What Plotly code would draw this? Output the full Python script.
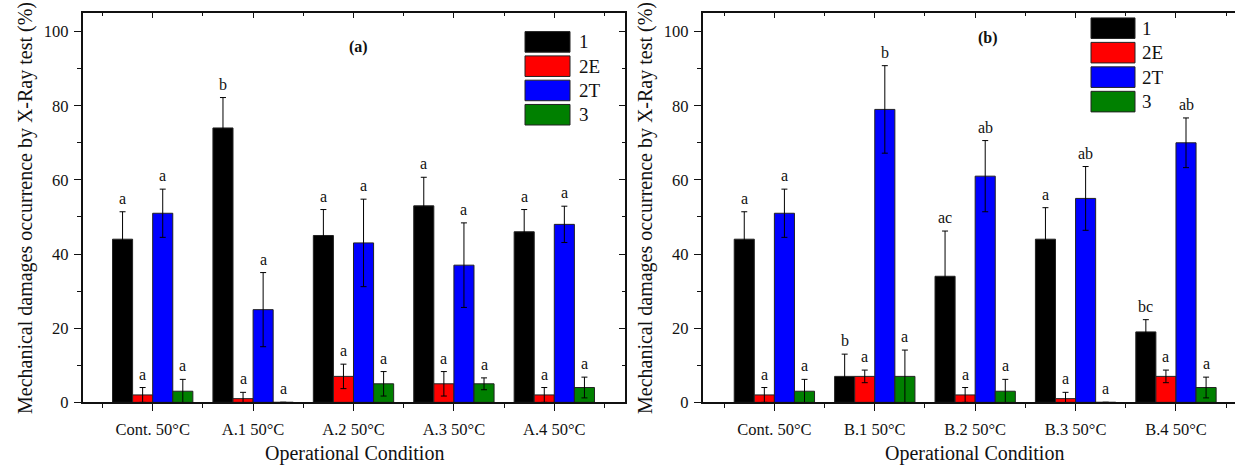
import plotly.graph_objects as go

# ---- data ---------------------------------------------------------------
series = ["1", "2E", "2T", "3"]
colors = ["#000000", "#ff0000", "#0000ff", "#008000"]

cats_a = ["Cont. 50°C", "A.1 50°C", "A.2 50°C", "A.3 50°C", "A.4 50°C"]
cats_b = ["Cont. 50°C", "B.1 50°C", "B.2 50°C", "B.3 50°C", "B.4 50°C"]

# panel (a): means, standard errors and significance letters per damage class
a_1 = [44, 74, 45, 53, 46]
a_2E = [2, 1, 7, 5, 2]
a_2T = [51, 25, 43, 37, 48]
a_3 = [3, 0, 5, 5, 4]
a_1_err = [7.4, 8.2, 7.0, 7.7, 6.0]
a_2E_err = [2.0, 1.7, 3.3, 3.3, 2.0]
a_2T_err = [6.5, 10.0, 11.8, 11.4, 4.9]
a_3_err = [3.2, 0.0, 3.3, 1.6, 2.8]
a_1_let = ["a", "b", "a", "a", "a"]
a_2E_let = ["a", "a", "a", "a", "a"]
a_2T_let = ["a", "a", "a", "a", "a"]
a_3_let = ["a", "a", "a", "a", "a"]

# panel (b)
b_1 = [44, 7, 34, 44, 19]
b_2E = [2, 7, 2, 1, 7]
b_2T = [51, 79, 61, 55, 70]
b_3 = [3, 7, 3, 0, 4]
b_1_err = [7.4, 6.0, 12.2, 8.5, 3.3]
b_2E_err = [2.0, 1.7, 2.0, 1.7, 1.7]
b_2T_err = [6.5, 11.8, 9.6, 8.6, 6.7]
b_3_err = [3.2, 7.1, 3.2, 0.0, 2.8]
b_1_let = ["a", "b", "ac", "a", "bc"]
b_2E_let = ["a", "a", "a", "a", "a"]
b_2T_let = ["a", "b", "ab", "ab", "ab"]
b_3_let = ["a", "a", "a", "a", "a"]

y_ticks = [0, 20, 40, 60, 80, 100]

# ---- layout helpers -----------------------------------------------------
W, H = 1235, 475
FONT = "Liberation Serif"


def px(x):
    return x / W


def py(y):
    return 1 - y / H


BARGAP = 0.2
n_series = len(series)
bar_w = (1 - BARGAP) / n_series
offsets = [-(1 - BARGAP) / 2 + bar_w * (i + 0.5) for i in range(n_series)]

fig = go.Figure()
annotations = []
shapes = []

panels = [
    ("x", "y", cats_a,
     [a_1, a_2E, a_2T, a_3], [a_1_err, a_2E_err, a_2T_err, a_3_err],
     [a_1_let, a_2E_let, a_2T_let, a_3_let]),
    ("x2", "y2", cats_b,
     [b_1, b_2E, b_2T, b_3], [b_1_err, b_2E_err, b_2T_err, b_3_err],
     [b_1_let, b_2E_let, b_2T_let, b_3_let]),
]

for xr, yr, cats, vals, errs, lets in panels:
    xs = list(range(len(cats)))
    for i, name in enumerate(series):
        fig.add_trace(go.Bar(
            x=xs, y=vals[i], name=name, xaxis=xr, yaxis=yr,
            marker=dict(color=colors[i], line=dict(color="#222222", width=1)),
            error_y=dict(type="data", array=errs[i], visible=True,
                         color="#000000", thickness=1, width=3),
            showlegend=False,
        ))
        for k, x in enumerate(xs):
            annotations.append(dict(
                x=x + offsets[i], y=vals[i][k] + errs[i][k],
                xref=xr, yref=yr, text=lets[i][k], showarrow=False,
                xanchor="center", yanchor="bottom", yshift=3,
                font=dict(family=FONT, size=16, color="#111111"),
            ))

# ---- axes ---------------------------------------------------------------
y_dom = [py(411), py(13.3)]
xa_dom = [px(82.7), px(625)]
xb_dom = [px(702.7), 1.0]
xa_rng = [-0.697, 4.704]
xb_rng = [-0.714, 4.588]
y_rng = [0, 105]
minor_x = [-0.5, 0.5, 1.5, 2.5, 3.5, 4.5]
minor_y = [10, 30, 50, 70, 90]

tickfont = dict(family=FONT, size=16.5, color="#111111")


def x_axis(dom, rng, cats, anchor):
    return dict(
        domain=dom, range=rng, anchor=anchor, fixedrange=True,
        tickmode="array", tickvals=list(range(len(cats))), ticktext=cats,
        ticks="outside", ticklen=7, tickwidth=1.3, tickcolor="#111111",
        minor=dict(tickmode="array", tickvals=minor_x, ticks="outside",
                   ticklen=3.5, tickwidth=1.3, tickcolor="#111111"),
        showline=True, linecolor="#111111", linewidth=1.8, mirror=True,
        showgrid=False, zeroline=False, tickfont=tickfont,
        ticklabelstandoff=4,
    )


def y_axis(anchor, mirror):
    return dict(
        domain=y_dom, range=y_rng, anchor=anchor, fixedrange=True,
        tickmode="array", tickvals=y_ticks, ticktext=[str(v) for v in y_ticks],
        ticks="outside", ticklen=7, tickwidth=1.3, tickcolor="#111111",
        minor=dict(tickmode="array", tickvals=minor_y, ticks="outside",
                   ticklen=3.5, tickwidth=1.3, tickcolor="#111111"),
        showline=True, linecolor="#111111", linewidth=1.8, mirror=mirror,
        showgrid=False, zeroline=False, tickfont=tickfont,
        ticklabelstandoff=2,
    )


def top_axis(over, dom, rng, n, anchor):
    return dict(
        overlaying=over, side="top", anchor=anchor, domain=dom, range=rng,
        fixedrange=True, tickmode="array", tickvals=list(range(n)),
        showticklabels=False, ticks="inside", ticklen=5, tickwidth=1.3,
        tickcolor="#111111",
        minor=dict(tickmode="array", tickvals=minor_x, ticks="inside",
                   ticklen=3, tickwidth=1.3, tickcolor="#111111"),
        showline=False, showgrid=False, zeroline=False,
    )


fig.update_layout(
    xaxis=x_axis(xa_dom, xa_rng, cats_a, "y"),
    yaxis=y_axis("x", True),
    xaxis2=x_axis(xb_dom, xb_rng, cats_b, "y2"),
    yaxis2=y_axis("x2", False),
    xaxis3=top_axis("x", xa_dom, xa_rng, len(cats_a), "y"),
    xaxis4=top_axis("x2", xb_dom, xb_rng, len(cats_b), "y2"),
    yaxis3=dict(
        overlaying="y", side="right", anchor="x", domain=y_dom, range=y_rng,
        fixedrange=True, tickmode="array", tickvals=y_ticks,
        showticklabels=False, ticks="inside", ticklen=6, tickwidth=1.3,
        tickcolor="#111111",
        minor=dict(tickmode="array", tickvals=minor_y, ticks="inside",
                   ticklen=3, tickwidth=1.3, tickcolor="#111111"),
        showline=False, showgrid=False, zeroline=False,
    ),
)

# invisible carriers so the tick-only overlay axes get rendered
fig.add_trace(go.Scatter(x=[None], y=[None], xaxis="x3", yaxis="y",
                         showlegend=False, hoverinfo="skip"))
fig.add_trace(go.Scatter(x=[None], y=[None], xaxis="x4", yaxis="y2",
                         showlegend=False, hoverinfo="skip"))
fig.add_trace(go.Scatter(x=[None], y=[None], xaxis="x", yaxis="y3",
                         showlegend=False, hoverinfo="skip"))

# ---- legends (drawn boxes with labels) ----------------------------------
legend_specs = [
    (525, 570, [32.3, 57.1, 81.9, 106.7], 577),
    (1091, 1135, [18.3, 43.3, 68.3, 93.3], 1140),
]
for x0, x1, tops, tx in legend_specs:
    for i, name in enumerate(series):
        shapes.append(dict(
            type="rect", xref="paper", yref="paper",
            x0=px(x0), x1=px(x1), y0=py(tops[i] + 21), y1=py(tops[i]),
            fillcolor=colors[i], line=dict(color="#222222", width=1),
        ))
        annotations.append(dict(
            x=px(tx), y=py(tops[i] + 10.5), xref="paper", yref="paper",
            text=name, showarrow=False, xanchor="left", yanchor="middle",
            font=dict(family=FONT, size=19, color="#111111"),
        ))

# ---- panel tags and axis titles -----------------------------------------
title_font = dict(family=FONT, size=20, color="#111111")
for label, cx, cy in [("<b>(a)</b>", 358, 47.7), ("<b>(b)</b>", 988, 39.3)]:
    annotations.append(dict(
        x=px(cx), y=py(cy), xref="paper", yref="paper", text=label,
        xanchor="center", yanchor="middle",
        showarrow=False, font=dict(family=FONT, size=16, color="#111111"),
    ))

ytitle = "Mechanical damages occurrence by X-Ray test (%)"
for cx in (25, 645):
    annotations.append(dict(
        x=px(cx), y=py(212.5), xref="paper", yref="paper", text=ytitle,
        xanchor="center", yanchor="middle",
        textangle=-90, showarrow=False, font=title_font,
    ))
for cx in (354.5, 974):
    annotations.append(dict(
        x=px(cx), y=py(463), xref="paper", yref="paper",
        xanchor="center", yanchor="middle",
        text="Operational Condition", showarrow=False, font=title_font,
    ))

fig.update_layout(
    width=W, height=H, margin=dict(l=0, r=0, t=0, b=0),
    paper_bgcolor="white", plot_bgcolor="white",
    barmode="group", bargap=BARGAP, bargroupgap=0,
    annotations=annotations, shapes=shapes, showlegend=False,
)

fig.write_html("out.html")
